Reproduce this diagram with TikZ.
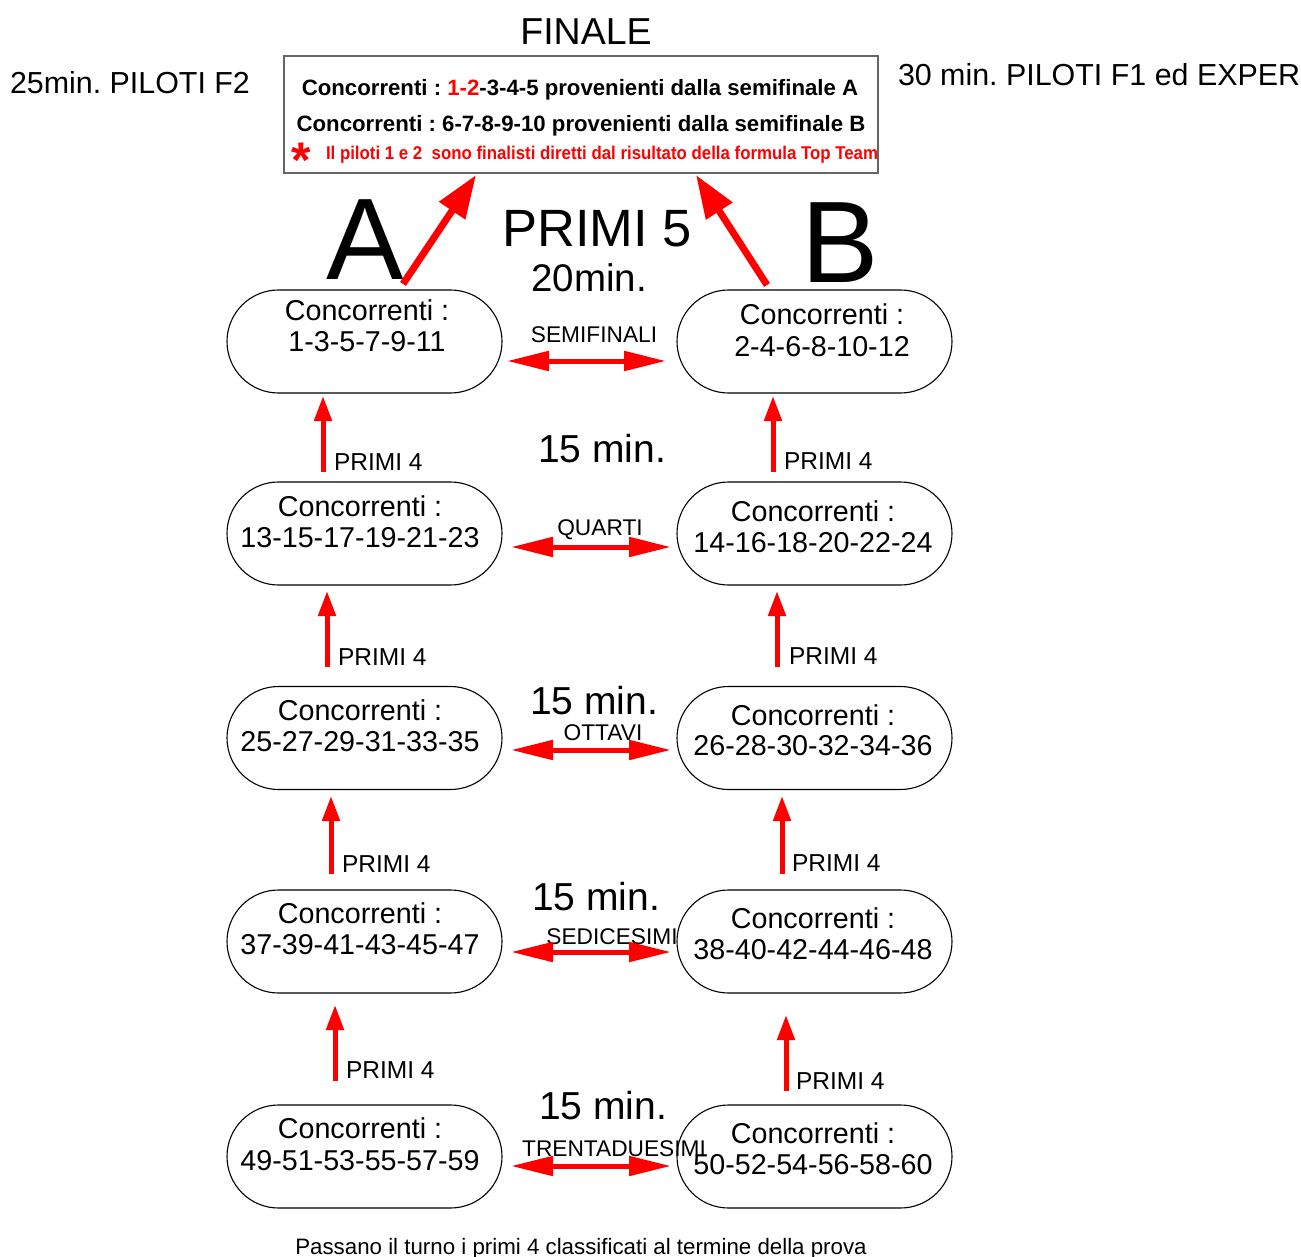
\documentclass[tikz,border=0pt]{standalone}
\usepackage{fontspec}
\usepackage{graphicx}
\setmainfont{Liberation Sans}
\usetikzlibrary{arrows.meta,calc}
\newcommand\myfs[1]{\fontsize{#1}{#1}\selectfont}
\frenchspacing
\begin{document}
\begin{tikzpicture}[x=1pt,y=-1pt,
  txt/.style={anchor=base,inner sep=0pt,outer sep=0pt},
  txtw/.style={anchor=base west,inner sep=0pt,outer sep=0pt},
  stad/.style={draw=black,line width=1.1pt,rounded corners=51.5pt,minimum width=275pt,minimum height=103pt,inner sep=0pt},
  cnc/.style={txt,font=\myfs{28.7}},
  mins/.style={txt,font=\myfs{39}},
  lbl/.style={txt,font=\myfs{22.7}},
  prim/.style={txtw,font=\myfs{24.5}},
  upar/.style={draw=red,line width=5pt,-{Triangle[length=25pt,width=17pt]}},
  harr/.style={draw=red,line width=5pt,{Triangle[length=42pt,width=19pt]}-{Triangle[length=42pt,width=19pt]}},
  darr/.style={draw=red,line width=7pt,-{Triangle[length=43pt,width=30pt]}},
  ]
\useasboundingbox (0,0) rectangle (1301,1257);

% header texts
\node[txt,font=\myfs{37.5}] (fin) at (586,45) {FINALE};
\node[txtw,font=\myfs{30.4}] (f2) at (10,94) {25min. PILOTI F2};
\node[txtw,font=\myfs{30.4}] (f1) at (898,86) {30 min. PILOTI F1 ed EXPER};

% final box
\node[draw=black!60,line width=1.2pt,minimum width=594pt,minimum height=117pt,inner sep=0pt] (box) at (581,114.5) {};
\node[txt,font=\bfseries\myfs{22.2}] (b1) at (580,96) {Concorrenti : \textcolor{red}{1-2}-3-4-5 provenienti dalla semifinale A};
\node[txt,font=\bfseries\myfs{22.2}] (b2) at (581,132) {Concorrenti : 6-7-8-9-10 provenienti dalla semifinale B};
\node[txt,font=\bfseries\myfs{50},text=red] (ast) at (301,178) {*};
\node[txtw,text=red] (b3) at (326,160) {\resizebox{552pt}{\height}{\bfseries\myfs{18.5}Il piloti 1 e 2\ \ sono finalisti diretti dal risultato della formula Top Team}};

% big letters and titles
\node[txt,font=\myfs{116},text depth=0pt] (A) at (365,280) {A};
\node[txt,font=\myfs{116},text depth=0pt] (B) at (840,283) {B};
\node[txt,font=\myfs{52.5}] (p5) at (597,247) {PRIMI 5};
\node[txt,font=\myfs{38.5}] (t20) at (589,292) {20min.};

% stadium nodes
\node[stad] (L1) at (364.5,341.5) {};
\node[stad] (R1) at (814.5,341.5) {};
\node[stad] (L2) at (364.5,533.5) {};
\node[stad] (R2) at (814.5,533.5) {};
\node[stad] (L3) at (364.5,738) {};
\node[stad] (R3) at (814.5,738) {};
\node[stad] (L4) at (364.5,941.5) {};
\node[stad] (R4) at (814.5,941.5) {};
\node[stad] (L5) at (364.5,1156.5) {};
\node[stad] (R5) at (814.5,1156.5) {};

% node texts
\node[cnc] (L1a) at (367,320) {Concorrenti :};
\node[cnc] (L1b) at (367,351) {1-3-5-7-9-11};
\node[cnc] (R1a) at (822,324) {Concorrenti :};
\node[cnc] (R1b) at (822,356) {2-4-6-8-10-12};
\node[cnc] (L2a) at (360,516) {Concorrenti :};
\node[cnc] (L2b) at (360,547) {13-15-17-19-21-23};
\node[cnc] (R2a) at (813,521) {Concorrenti :};
\node[cnc] (R2b) at (813,552) {14-16-18-20-22-24};
\node[cnc] (L3a) at (360,720) {Concorrenti :};
\node[cnc] (L3b) at (360,751) {25-27-29-31-33-35};
\node[cnc] (R3a) at (813,725) {Concorrenti :};
\node[cnc] (R3b) at (813,755) {26-28-30-32-34-36};
\node[cnc] (L4a) at (360,923) {Concorrenti :};
\node[cnc] (L4b) at (360,954) {37-39-41-43-45-47};
\node[cnc] (R4a) at (813,928) {Concorrenti :};
\node[cnc] (R4b) at (813,959) {38-40-42-44-46-48};
\node[cnc] (L5a) at (360,1138) {Concorrenti :};
\node[cnc] (L5b) at (360,1170) {49-51-53-55-57-59};
\node[cnc] (R5a) at (813,1143) {Concorrenti :};
\node[cnc] (R5b) at (813,1174) {50-52-54-56-58-60};

% minutes
\node[mins] (m2) at (602,462) {15 min.};
\node[mins] (m3) at (594,714) {15 min.};
\node[mins] (m4) at (596,910) {15 min.};
\node[mins] (m5) at (603,1119) {15 min.};

% round labels
\node[lbl] (s1) at (594,342) {SEMIFINALI};
\node[lbl] (s2) at (600,535) {QUARTI};
\node[lbl] (s3) at (603,740) {OTTAVI};
\node[lbl] (s4) at (612,944) {SEDICESIMI};
\node[lbl] (s5) at (614,1156) {TRENTADUESIMI};

% PRIMI 4 labels
\node[prim] (pl1) at (334,470) {PRIMI 4};
\node[prim] (pl2) at (338,665) {PRIMI 4};
\node[prim] (pl3) at (342,872) {PRIMI 4};
\node[prim] (pl4) at (346,1078) {PRIMI 4};
\node[prim] (pr1) at (784,469) {PRIMI 4};
\node[prim] (pr2) at (789,664) {PRIMI 4};
\node[prim] (pr3) at (792,871) {PRIMI 4};
\node[prim] (pr4) at (796,1089) {PRIMI 4};

\node[txt,font=\myfs{22.3}] (foot) at (581,1254) {Passano il turno i primi 4 classificati al termine della prova};

% connector end points
\coordinate (dA0) at (403,284); \coordinate (dA1) at (476,175);
\coordinate (dB0) at (767,285); \coordinate (dB1) at (696,175);
\coordinate (vl1a) at (323,472); \coordinate (vl1b) at (323,396);
\coordinate (vl2a) at (327,667); \coordinate (vl2b) at (327,591);
\coordinate (vl3a) at (331,874); \coordinate (vl3b) at (331,796);
\coordinate (vl4a) at (335,1081); \coordinate (vl4b) at (335,1005);
\coordinate (vr1a) at (773,472); \coordinate (vr1b) at (773,396);
\coordinate (vr2a) at (777,667); \coordinate (vr2b) at (777,591);
\coordinate (vr3a) at (782,874); \coordinate (vr3b) at (782,796);
\coordinate (vr4a) at (786,1091); \coordinate (vr4b) at (786,1015);
\coordinate (h1a) at (507,361); \coordinate (h1b) at (666,361);
\coordinate (h2a) at (511,547); \coordinate (h2b) at (671,547);
\coordinate (h3a) at (511,750); \coordinate (h3b) at (671,750);
\coordinate (h4a) at (511,952); \coordinate (h4b) at (671,952);
\coordinate (h5a) at (511,1166); \coordinate (h5b) at (671,1166);

% arrows
\draw[darr] (dA0) -- (dA1);
\draw[darr] (dB0) -- (dB1);
\foreach \c in {l1,l2,l3,l4,r1,r2,r3,r4}{\draw[upar] (v\c a) -- (v\c b);}
\foreach \c in {1,...,5}{\draw[harr] (h\c a) -- (h\c b);}
\end{tikzpicture}
\end{document}
